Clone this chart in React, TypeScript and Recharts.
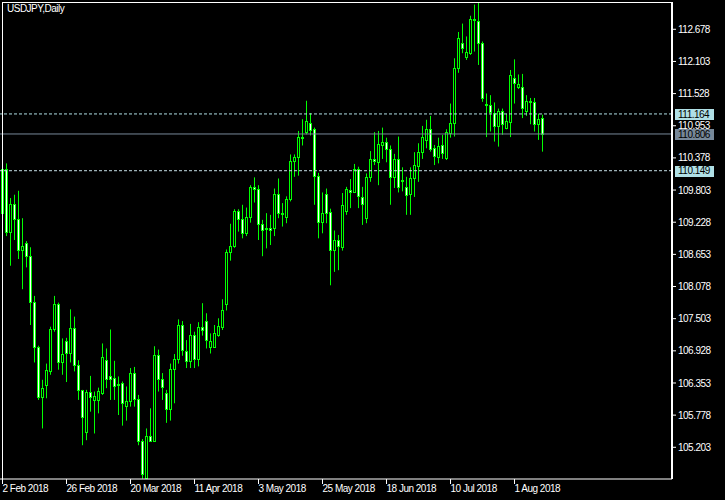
import React from 'react'
import { ComposedChart, Bar, XAxis, YAxis, ReferenceLine } from 'recharts'

// USDJPY daily, 2 Feb 2018 .. 10 Aug 2018
const opens = [
  109.39, 110.18, 109.06, 109.55, 109.29, 108.74, 108.85, 108.63, 107.81, 107.0,
  106.11, 106.32, 106.57, 107.31, 107.77, 106.73, 107.1, 106.89, 107.33, 106.68,
  106.22, 105.48, 106.2, 106.05, 106.05, 106.18, 106.76, 106.47, 106.45, 106.31,
  106.35, 105.94, 106.03, 106.53, 106.06, 105.31, 104.66, 105.4, 105.32, 106.85,
  106.42, 106.17, 105.88, 106.6, 106.78, 107.39, 106.93, 106.75, 107.21, 106.78,
  107.36, 107.46, 106.99, 107.0, 107.21, 107.35, 107.76, 108.69, 108.81, 109.42,
  109.28, 109.04, 109.33, 109.86, 109.82, 109.19, 109.1, 109.12, 109.12, 109.74,
  109.39, 109.33, 109.64, 110.33, 110.39, 110.75, 110.84, 111.0, 110.89, 110.06,
  109.24, 109.73, 109.41, 108.74, 108.91, 108.79, 109.42, 109.81, 109.77, 110.18,
  109.67, 109.3, 110.03, 110.35, 110.31, 110.6, 110.67, 110.53, 110.04, 110.35,
  109.99, 109.85, 109.74, 110.01, 110.24, 110.48, 110.7, 110.89, 110.55, 110.4,
  110.61, 110.37, 110.82, 111.0, 111.98, 112.44, 112.19, 112.25, 112.85, 112.83,
  112.44, 111.35, 111.33, 111.18, 110.95, 111.22, 110.92, 111.02, 111.8, 111.65,
  111.64, 111.21, 111.4, 111.37, 110.98, 111.09,
]
const highs = [
  110.28, 110.28, 109.66, 109.72, 109.79, 109.3, 108.89, 108.78, 107.91, 107.02,
  106.41, 106.7, 107.36, 107.91, 107.79, 107.15, 107.16, 107.67, 107.54, 106.76,
  106.23, 106.23, 106.48, 106.2, 106.27, 107.06, 106.97, 107.31, 106.75, 106.47,
  106.38, 106.29, 106.62, 106.64, 106.14, 105.35, 105.54, 105.9, 107.01, 106.95,
  106.53, 106.23, 106.7, 106.87, 107.49, 107.46, 107.12, 107.41, 107.27, 107.44,
  107.78, 107.6, 107.24, 107.39, 107.51, 107.85, 108.74, 109.2, 109.46, 109.46,
  109.54, 109.49, 109.89, 110.03, 109.89, 109.27, 109.39, 109.36, 109.83, 110.01,
  109.57, 109.69, 110.44, 110.44, 110.86, 111.07, 111.4, 111.18, 110.92, 110.11,
  109.76, 109.83, 109.47, 109.08, 109.0, 109.75, 109.86, 110.0, 110.27, 110.22,
  109.86, 110.1, 110.5, 110.84, 110.86, 110.92, 110.74, 110.6, 110.45, 110.76,
  110.21, 110.04, 110.21, 110.48, 110.64, 110.95, 111.06, 111.13, 110.61, 110.74,
  110.79, 110.89, 111.35, 112.16, 112.63, 112.78, 112.55, 112.92, 113.12, 113.16,
  112.46, 111.53, 111.5, 111.37, 111.26, 111.26, 111.17, 111.95, 112.14, 111.87,
  111.88, 111.5, 111.45, 111.45, 111.17, 111.15,
]
const lows = [
  109.3, 108.98, 108.45, 108.91, 108.57, 108.03, 108.42, 107.39, 106.72, 106.05,
  105.54, 106.08, 106.5, 107.27, 106.59, 106.5, 106.37, 106.72, 106.56, 106.05,
  105.24, 105.33, 105.84, 105.45, 105.81, 106.14, 106.26, 106.05, 106.05, 105.78,
  105.59, 105.68, 105.93, 105.93, 105.24, 104.64, 104.64, 105.3, 105.3, 106.2,
  106.05, 105.64, 105.68, 105.99, 106.7, 106.84, 106.62, 106.62, 106.62, 106.65,
  107.2, 106.97, 106.88, 106.99, 107.18, 107.3, 107.65, 108.54, 108.77, 109.06,
  108.94, 108.98, 109.22, 109.58, 108.91, 108.62, 108.76, 108.82, 108.98, 109.3,
  109.15, 109.21, 109.6, 110.04, 110.06, 110.6, 110.8, 110.78, 109.54, 108.94,
  109.03, 109.21, 108.1, 108.34, 108.37, 108.72, 109.36, 109.48, 109.75, 109.48,
  109.18, 109.21, 109.95, 110.25, 109.89, 110.36, 110.3, 109.54, 109.84, 109.76,
  109.78, 109.36, 109.36, 109.68, 109.95, 110.36, 110.55, 110.49, 110.25, 110.28,
  110.36, 110.34, 110.74, 110.76, 111.9, 112.25, 112.13, 112.22, 112.28, 112.04,
  111.38, 110.75, 110.85, 110.67, 110.58, 110.79, 110.89, 110.75, 111.35, 111.61,
  111.09, 111.13, 110.98, 110.85, 110.7, 110.49,
]
const closes = [
  110.18, 109.06, 109.55, 109.29, 108.74, 108.8, 108.63, 107.81, 107.0, 106.11,
  106.26, 106.59, 107.31, 107.77, 106.73, 106.88, 106.89, 107.33, 106.68, 106.22,
  105.74, 106.2, 106.11, 106.12, 106.21, 106.82, 106.43, 106.42, 106.3, 106.34,
  105.99, 106.03, 106.53, 106.06, 105.31, 104.73, 105.4, 105.32, 106.85, 106.42,
  106.28, 105.88, 106.6, 106.78, 107.39, 106.94, 106.75, 107.21, 106.78, 107.36,
  107.3, 107.12, 107.1, 107.24, 107.37, 107.66, 108.69, 108.81, 109.43, 109.29,
  109.04, 109.32, 109.85, 109.82, 109.19, 109.08, 109.13, 109.08, 109.74, 109.39,
  109.37, 109.64, 110.32, 110.39, 110.75, 110.74, 111.04, 110.88, 110.06, 109.24,
  109.39, 109.4, 108.74, 108.91, 108.8, 109.54, 109.82, 109.77, 110.18, 109.7,
  109.55, 110.03, 110.35, 110.32, 110.63, 110.66, 110.54, 110.04, 110.35, 109.85,
  109.97, 109.71, 110.01, 110.25, 110.48, 110.75, 110.9, 110.53, 110.42, 110.59,
  110.46, 110.84, 111.0, 111.98, 112.52, 112.34, 112.28, 112.86, 112.87, 112.43,
  111.45, 111.33, 111.19, 110.95, 111.22, 110.99, 111.04, 111.86, 111.71, 111.7,
  111.27, 111.4, 111.37, 110.98, 111.07, 110.81,
]

const priceTicks = [
  105.203, 105.778, 106.353, 106.928, 107.503, 108.078, 108.653, 109.228,
  109.803, 110.378, 110.953, 111.528, 112.103, 112.678,
]
const dateTicks = [
  '2 Feb 2018', '26 Feb 2018', '20 Mar 2018', '11 Apr 2018', '3 May 2018',
  '25 May 2018', '18 Jun 2018', '10 Jul 2018', '1 Aug 2018',
]
const hlines = [
  { price: 111.164, color: '#b0e0e6', tag: '#b0e0e6', dash: '3 2' },
  { price: 110.806, color: '#778899', tag: '#778899', dash: undefined },
  { price: 110.149, color: '#c4dde4', tag: '#b0e0e6', dash: '3 2' },
]
const TOTAL_SLOTS = 168 // chart shift leaves empty slots on the right

const MONTHS = ['Jan', 'Feb', 'Mar', 'Apr', 'May', 'Jun', 'Jul', 'Aug', 'Sep', 'Oct', 'Nov', 'Dec']
const dates: string[] = []
for (let t = Date.UTC(2018, 1, 2); dates.length < opens.length; t += 86400000) {
  const d = new Date(t)
  const wd = d.getUTCDay()
  if (wd === 0 || wd === 6) continue
  dates.push(`${d.getUTCDate()} ${MONTHS[d.getUTCMonth()]} ${d.getUTCFullYear()}`)
}

const data = Array.from({ length: TOTAL_SLOTS }, (_, i) =>
  i < opens.length
    ? {
        d: dates[i],
        open: opens[i],
        high: highs[i],
        low: lows[i],
        close: closes[i],
        range: [lows[i], highs[i]],
      }
    : { d: `pad${i}` },
)

const LIME = '#00ff00'
const FONT = '"Liberation Sans", Arial, sans-serif'

const Candle = (props: any) => {
  const { x, y, width, height, payload } = props
  if (!payload || payload.open == null || !isFinite(y) || !isFinite(height)) return null
  const { open, close, high, low } = payload
  const top = Math.min(y, y + height)
  const h = Math.abs(height)
  const k = h / (high - low)
  const yO = top + (high - open) * k
  const yC = top + (high - close) * k
  const cx = Math.floor(x + width / 2) + 0.5
  const bt = Math.round(Math.min(yO, yC))
  const bb = Math.round(Math.max(yO, yC))
  const bull = close >= open
  return (
    <g>
      <line x1={cx} x2={cx} y1={top} y2={top + h} stroke={LIME} strokeWidth={1} />
      <rect
        x={cx - 1}
        y={bt + 0.5}
        width={2}
        height={Math.max(bb - bt, 0)}
        fill={bull ? '#000' : '#fff'}
        stroke={LIME}
        strokeWidth={1}
      />
    </g>
  )
}

const XTick = (props: any) => {
  const { x, y, payload } = props
  if (!dateTicks.includes(payload.value)) return null
  const px = Math.floor(x) + 0.5
  return (
    <g>
      <line x1={px} x2={px} y1={y} y2={y + 5} stroke="#fff" />
      <text x={px} y={y + 13} fill="#fff" fontSize={10} fontFamily={FONT} letterSpacing={-0.5}>
        {payload.value}
      </text>
    </g>
  )
}

const PriceTag = (props: any) => {
  const { viewBox, text, bg } = props
  if (!viewBox) return null
  const { x, y, width } = viewBox
  const left = x + width + 3
  return (
    <g>
      <rect x={left} y={Math.round(y) - 5} width={39} height={11} fill={bg} />
      <text x={left + 3} y={y} dy="0.36em" fill="#000" fontSize={10} fontFamily={FONT} letterSpacing={-0.5}>
        {text}
      </text>
    </g>
  )
}

export default function App() {
  return (
    <div style={{ position: 'absolute', left: 0, top: 0, width: 725, height: 500, background: '#000' }}>
      <ComposedChart
        width={725}
        height={500}
        data={data}
        margin={{ top: 2, right: 0, bottom: 0, left: 0 }}
        barCategoryGap={0}
      >
        <XAxis
          dataKey="d"
          height={21}
          interval={0}
          tickLine={false}
          tickSize={0}
          tickMargin={0}
          axisLine={{ stroke: '#fff' }}
          tick={<XTick />}
        />
        <YAxis
          orientation="right"
          width={53}
          type="number"
          domain={[104.636, 113.166]}
          allowDataOverflow
          ticks={priceTicks}
          tickFormatter={(v: number) => v.toFixed(3)}
          tickSize={4}
          tickMargin={2}
          tickLine={{ stroke: '#fff' }}
          axisLine={{ stroke: '#fff', strokeWidth: 2 }}
          tick={{ fill: '#fff', fontSize: 10, fontFamily: FONT, letterSpacing: -0.5, textAnchor: 'start' }}
        />
        <Bar dataKey="range" shape={<Candle />} isAnimationActive={false} />
        {hlines.map((l) => (
          <ReferenceLine
            key={l.price}
            y={l.price}
            stroke={l.color}
            strokeDasharray={l.dash}
            label={<PriceTag text={l.price.toFixed(3)} bg={l.tag} />}
          />
        ))}
      </ComposedChart>
      <div
        style={{
          position: 'absolute',
          left: 2,
          top: 2,
          width: 670,
          height: 477,
          borderLeft: '1px solid #fff',
          borderTop: '1px solid #fff',
          boxSizing: 'border-box',
          pointerEvents: 'none',
        }}
      />
      <div
        style={{
          position: 'absolute',
          left: 7,
          top: 3,
          color: '#fff',
          font: `10px ${FONT}`,
          lineHeight: '12px',
          letterSpacing: -0.5,
        }}
      >
        USDJPY,Daily
      </div>
    </div>
  )
}
